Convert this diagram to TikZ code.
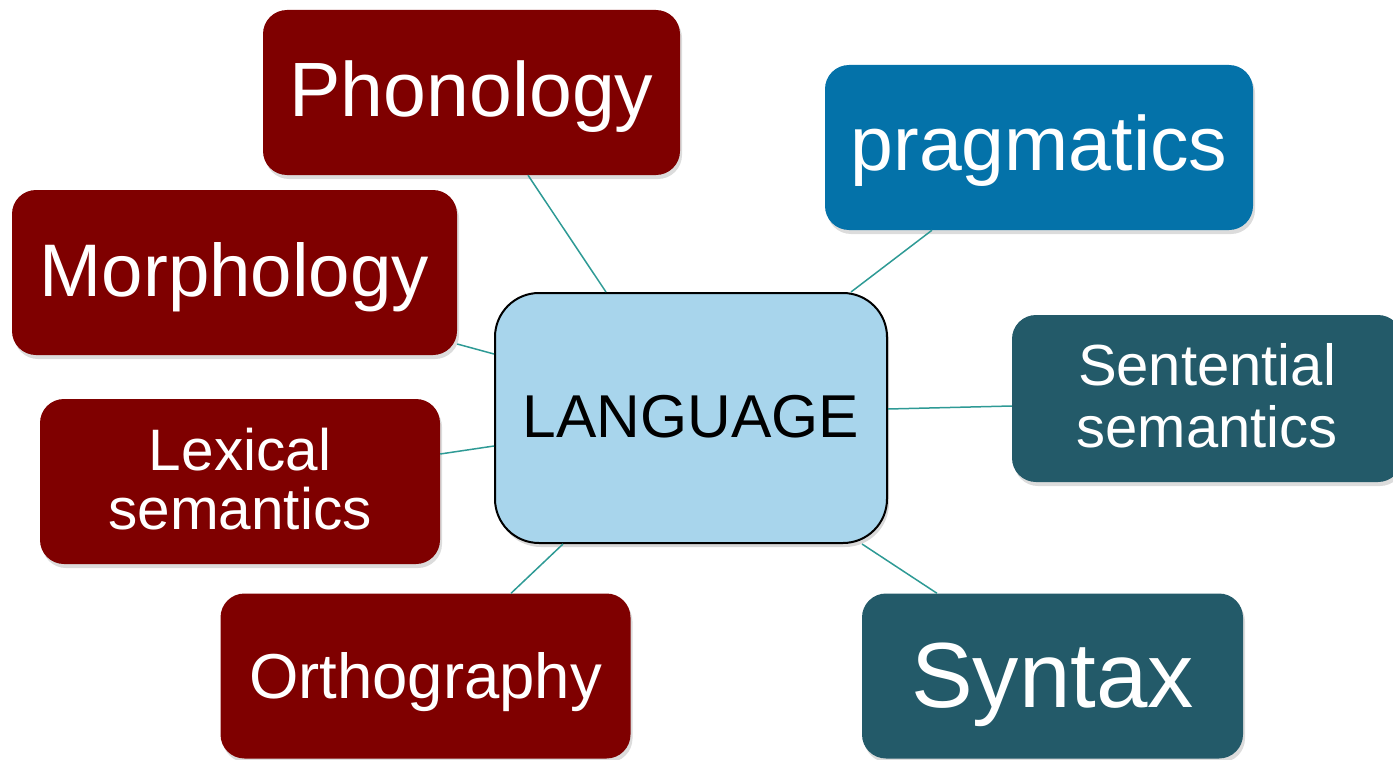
\documentclass[tikz,border=0pt]{standalone}
\usepackage{fontspec}
\setmainfont{Liberation Sans}
\usetikzlibrary{shadows}

\definecolor{maroon}{HTML}{7F0000}
\definecolor{pragblue}{HTML}{0472A9}
\definecolor{deepteal}{HTML}{235A69}
\definecolor{skyfill}{HTML}{A8D5EC}
\definecolor{linkteal}{HTML}{2E9A95}

% two centred lines, baseline on the first one
\newcommand{\twolines}[2]{\begin{tabular}[t]{@{}c@{}}#1\\#2\end{tabular}}

\tikzset{
  topic/.style={rounded corners=24pt, inner sep=0pt, text=white,
    minimum width=#1, minimum height=165pt,
    drop shadow={opacity=0.28, shadow xshift=2pt, shadow yshift=-4pt}},
  redtopic/.style={topic=#1, fill=maroon},
  tealtopic/.style={topic=#1, fill=deepteal},
  % baseline sits half the given height below the box centre
  midline/.style={text height=#1, text depth=0pt},
  link/.style={draw=linkteal, line width=1.5pt},
}

\begin{document}
\begin{tikzpicture}[x=1pt, y=-1pt]
\useasboundingbox (0,0) rectangle (1393,760);

% central box
\node (lang) [rounded corners=44pt, fill=skyfill, draw=black, line width=2pt,
  minimum width=392pt, minimum height=250pt, inner sep=0pt, midline=38pt,
  drop shadow={opacity=0.3, shadow xshift=2pt, shadow yshift=-4pt},
  font=\fontsize{60.5}{62}\selectfont] at (691,418) {LANGUAGE};

% surrounding topics
\node (phon) [redtopic=417pt, midline=47pt,
  font=\fontsize{77}{80}\selectfont] at (471.5,92.5) {Phonology};
\node (morph) [redtopic=445pt, midline=47pt,
  font=\fontsize{74.5}{78}\selectfont] at (234.5,272.5) {Morphology};
\node (lex) [redtopic=400pt, text height=35pt, text depth=58pt,
  font=\fontsize{58.5}{58}\selectfont] at (240,481.5) {\twolines{Lexical}{semantics}};
\node (orth) [redtopic=410pt, midline=44pt,
  font=\fontsize{63.5}{66}\selectfont] at (425.5,676) {Orthography};

\node (prag) [topic=428pt, fill=pragblue, midline=45pt,
  font=\fontsize{77}{80}\selectfont] at (1039,147.5) {pragmatics};
\node (sent) [tealtopic=390pt, minimum height=167pt, text height=35pt, text depth=62pt,
  font=\fontsize{58}{62}\selectfont] at (1207,398.5) {\twolines{Sentential}{semantics}};
\node (syn) [tealtopic=381pt, midline=62pt,
  font=\fontsize{92.5}{96}\selectfont] at (1052.5,676) {Syntax};

% connectors from the centre box to each topic
\path[link] (528,0 |- phon.south) -- (606,0 |- lang.north);
\path[link] (932,0 |- prag.south) -- (851,0 |- lang.north);
\path[link] (morph.east |- 0,344) -- (lang.west |- 0,354);
\path[link] (lex.east |- 0,454) -- (lang.west |- 0,446);
\path[link] (lang.east |- 0,409) -- (sent.west |- 0,406);
\path[link] (511,0 |- orth.north) -- (563,0 |- lang.south);
\path[link] (937,0 |- syn.north) -- (862,0 |- lang.south);
\end{tikzpicture}
\end{document}
